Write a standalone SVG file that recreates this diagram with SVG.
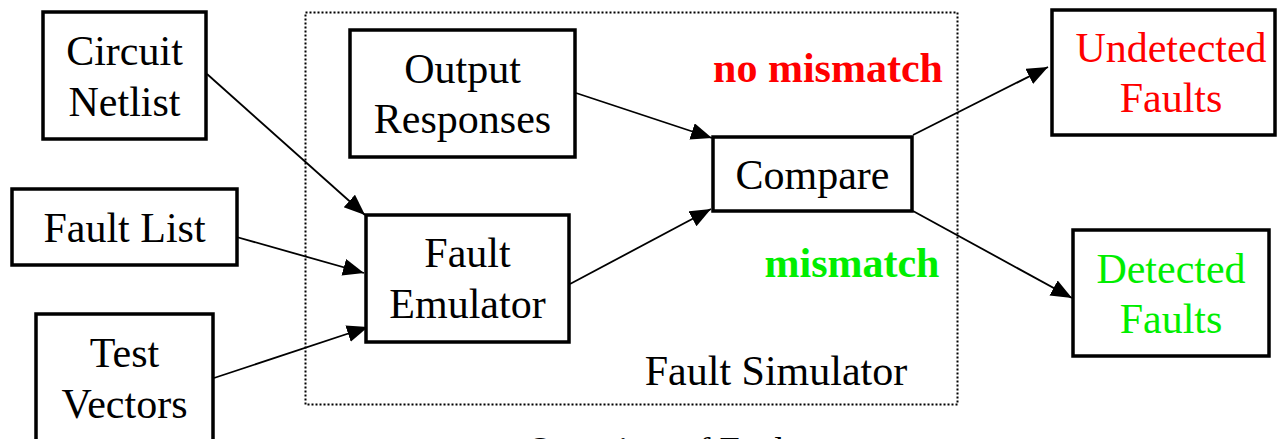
<svg xmlns="http://www.w3.org/2000/svg" width="1278" height="439" viewBox="0 0 1278 439">
  <style>
    text { font-family: "Liberation Serif", "Times New Roman", serif; font-size: 42px; text-anchor: middle; fill: #000; }
    .box { fill: #fff; stroke: #000; stroke-width: 3.5; }
    .edge { stroke: #000; stroke-width: 1.8; fill: none; marker-end: url(#arrow); }
    .frame { fill: none; stroke: #000; stroke-width: 2; stroke-dasharray: 2 2; }
    .bold { font-weight: bold; }
    .red { fill: #ff0000; }
    .green { fill: #00ee00; }
  </style>
  <defs>
    <marker id="arrow" markerUnits="userSpaceOnUse" markerWidth="22" markerHeight="18" refX="21" refY="8.5" orient="auto">
      <path d="M0,0 L21,8.5 L0,17 z" fill="#000"/>
    </marker>
  </defs>

  <rect width="1278" height="439" fill="#fff"/>

  <!-- simulator boundary -->
  <g id="fault-simulator">
    <rect class="frame" x="305.5" y="12.5" width="652" height="392"/>
    <text x="776" y="385">Fault Simulator</text>
    <text class="bold red" x="828" y="82">no mismatch</text>
    <text class="bold green" x="852" y="277">mismatch</text>
  </g>

  <g id="connectors">
    <line class="edge" x1="207" y1="74" x2="365" y2="215"/>
    <line class="edge" x1="233" y1="236" x2="364" y2="273"/>
    <line class="edge" x1="214" y1="378" x2="368" y2="327"/>
    <line class="edge" x1="576" y1="93" x2="712" y2="138"/>
    <line class="edge" x1="570" y1="284" x2="711" y2="209"/>
    <line class="edge" x1="913" y1="135" x2="1048" y2="67"/>
    <line class="edge" x1="913" y1="211" x2="1072" y2="298"/>
  </g>

  <g id="circuit-netlist">
    <rect class="box" x="43" y="12" width="163" height="127"/>
    <text x="124.5" y="65">Circuit</text>
    <text x="124.5" y="116">Netlist</text>
  </g>

  <g id="fault-list">
    <rect class="box" x="12" y="189" width="225" height="76"/>
    <text x="124.5" y="242">Fault List</text>
  </g>

  <g id="test-vectors">
    <rect class="box" x="36" y="314" width="177" height="140"/>
    <text x="124.5" y="367">Test</text>
    <text x="124.5" y="418">Vectors</text>
  </g>

  <g id="output-responses">
    <rect class="box" x="350" y="30" width="225" height="127"/>
    <text x="462.5" y="83">Output</text>
    <text x="462.5" y="133">Responses</text>
  </g>

  <g id="fault-emulator">
    <rect class="box" x="366" y="215" width="203" height="127"/>
    <text x="467.5" y="267">Fault</text>
    <text x="467.5" y="318">Emulator</text>
  </g>

  <g id="compare">
    <rect class="box" x="713" y="137" width="199" height="74"/>
    <text x="812.5" y="189">Compare</text>
  </g>

  <g id="undetected-faults">
    <rect class="box" x="1052" y="10" width="223" height="125"/>
    <text class="red" x="1171" y="62">Undetected</text>
    <text class="red" x="1171" y="112">Faults</text>
  </g>

  <g id="detected-faults">
    <rect class="box" x="1073" y="230" width="196" height="126"/>
    <text class="green" x="1171" y="283">Detected</text>
    <text class="green" x="1171" y="333">Faults</text>
  </g>

  <!-- caption, mostly below the visible area -->
  <text x="527" y="462" style="text-anchor:start;font-size:36.5px">Overview of Fault</text>
</svg>
